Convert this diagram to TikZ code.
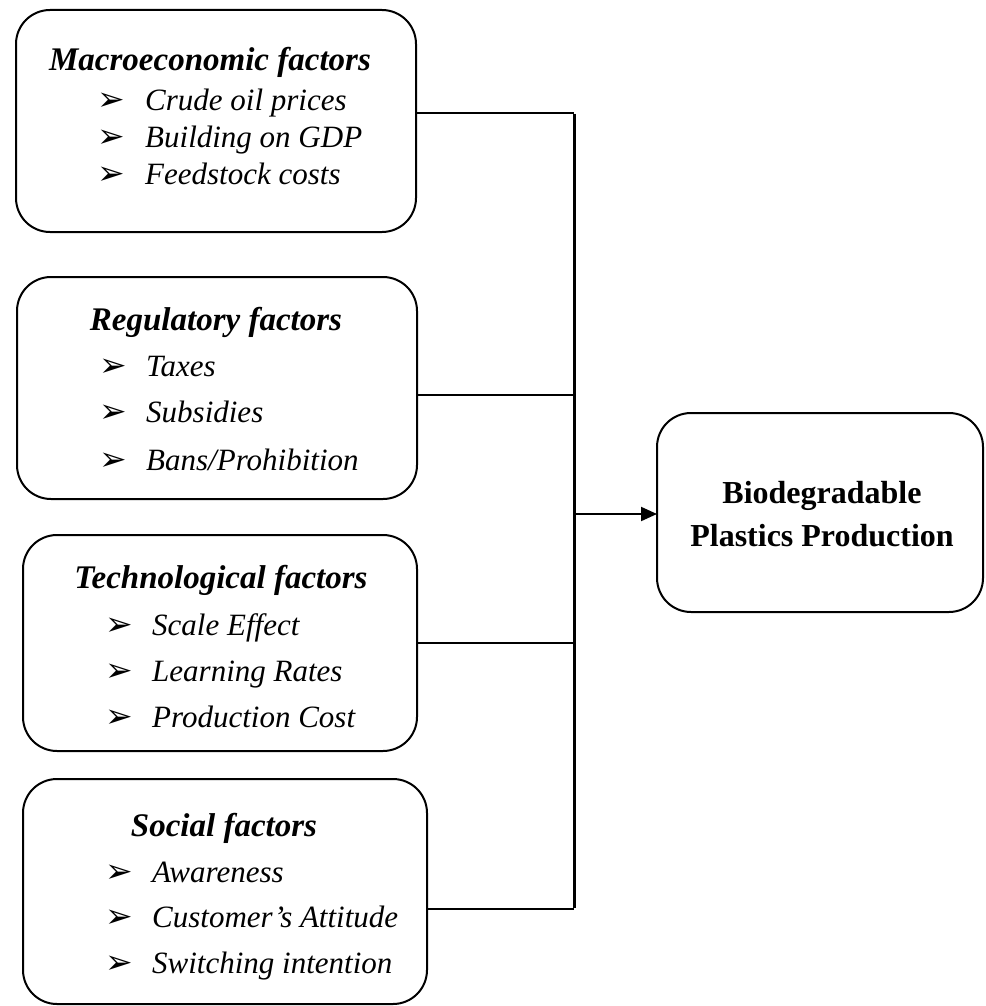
\documentclass[tikz,border=0pt]{standalone}
\usepackage{fontspec}
\setmainfont{Liberation Serif}
\newfontfamily\symfont{DejaVu Sans}
\usetikzlibrary{arrows.meta}
\tikzset{
  box/.style={draw=black, line width=2pt, rounded corners=34pt, inner sep=0pt, outer sep=0pt},
  ttl/.style={anchor=base, inner sep=0pt, font=\fontsize{33}{33}\selectfont\bfseries\itshape},
  itm/.style={anchor=base west, inner sep=0pt, font=\fontsize{31}{31}\selectfont\itshape},
  bul/.style={anchor=base west, inner sep=0pt, font=\fontsize{33}{33}\selectfont\symfont},
  res/.style={anchor=base, inner sep=0pt, font=\fontsize{32}{32}\selectfont\bfseries},
  conn/.style={line width=2pt},
  trunk/.style={line width=3pt}
}
\begin{document}
\begin{tikzpicture}[x=1pt,y=-1pt]
\useasboundingbox (0,0) rectangle (985,1006);
% boxes
\node[box, minimum width=400pt, minimum height=222pt] (m) at (216,121) {};
\node[box, minimum width=400pt, minimum height=222pt] (r) at (217,388) {};
\node[box, minimum width=394pt, minimum height=216pt] (t) at (220,643) {};
\node[box, minimum width=404pt, minimum height=225pt] (s) at (225,891.5) {};
\node[box, minimum width=326pt, minimum height=199pt] (b) at (820,512.5) {};
% box 1 text
\node[ttl] (mt) at (210,70.5) {Macroeconomic factors};
\node[bul] (mb1) at (97,110.5) {➢};
\node[itm] (mi1) at (145,110.5) {Crude oil prices};
\node[bul] (mb2) at (97,147) {➢};
\node[itm] (mi2) at (145,147) {Building on GDP};
\node[bul] (mb3) at (97,184) {➢};
\node[itm] (mi3) at (145,184) {Feedstock costs};
% box 2 text
\node[ttl] (rt) at (216,330) {Regulatory factors};
\node[bul] (rb1) at (99,376) {➢};
\node[itm] (ri1) at (146,376) {Taxes};
\node[bul] (rb2) at (99,422) {➢};
\node[itm] (ri2) at (146,422) {Subsidies};
\node[bul] (rb3) at (99,470) {➢};
\node[itm] (ri3) at (146,470) {Bans/Prohibition};
% box 3 text
\node[ttl] (tt) at (221,588) {Technological factors};
\node[bul] (tb1) at (105,635) {➢};
\node[itm] (ti1) at (152,635) {Scale Effect};
\node[bul] (tb2) at (105,681) {➢};
\node[itm] (ti2) at (152,681) {Learning Rates};
\node[bul] (tb3) at (105,727) {➢};
\node[itm] (ti3) at (152,727) {Production Cost};
% box 4 text
\node[ttl] (st) at (224,836) {Social factors};
\node[bul] (sb1) at (105,882) {➢};
\node[itm] (si1) at (152,882) {Awareness};
\node[bul] (sb2) at (105,927) {➢};
\node[itm] (si2) at (152,927) {Customer’s Attitude};
\node[bul] (sb3) at (105,973) {➢};
\node[itm] (si3) at (152,973) {Switching intention};
% result text
\node[res] (bt1) at (822,503) {Biodegradable};
\node[res] (bt2) at (822,546) {Plastics Production};
% junctions
\coordinate (j1) at (574,113);
\coordinate (j2) at (574,395);
\coordinate (j3) at (574,643);
\coordinate (j4) at (574,909);
\coordinate (ja) at (574,514);
% connectors
\draw[conn] (m.east |- j1) -- (j1);
\draw[conn] (r.east |- j2) -- (j2);
\draw[conn] (t.east |- j3) -- (j3);
\draw[conn] (s.east |- j4) -- (j4);
\draw[trunk] ([yshift=-1pt]j1) -- ([yshift=1pt]j4);
\draw[conn, -{Triangle[length=16pt,width=14pt]}] (ja) -- (b.west |- ja);
\end{tikzpicture}
\end{document}
